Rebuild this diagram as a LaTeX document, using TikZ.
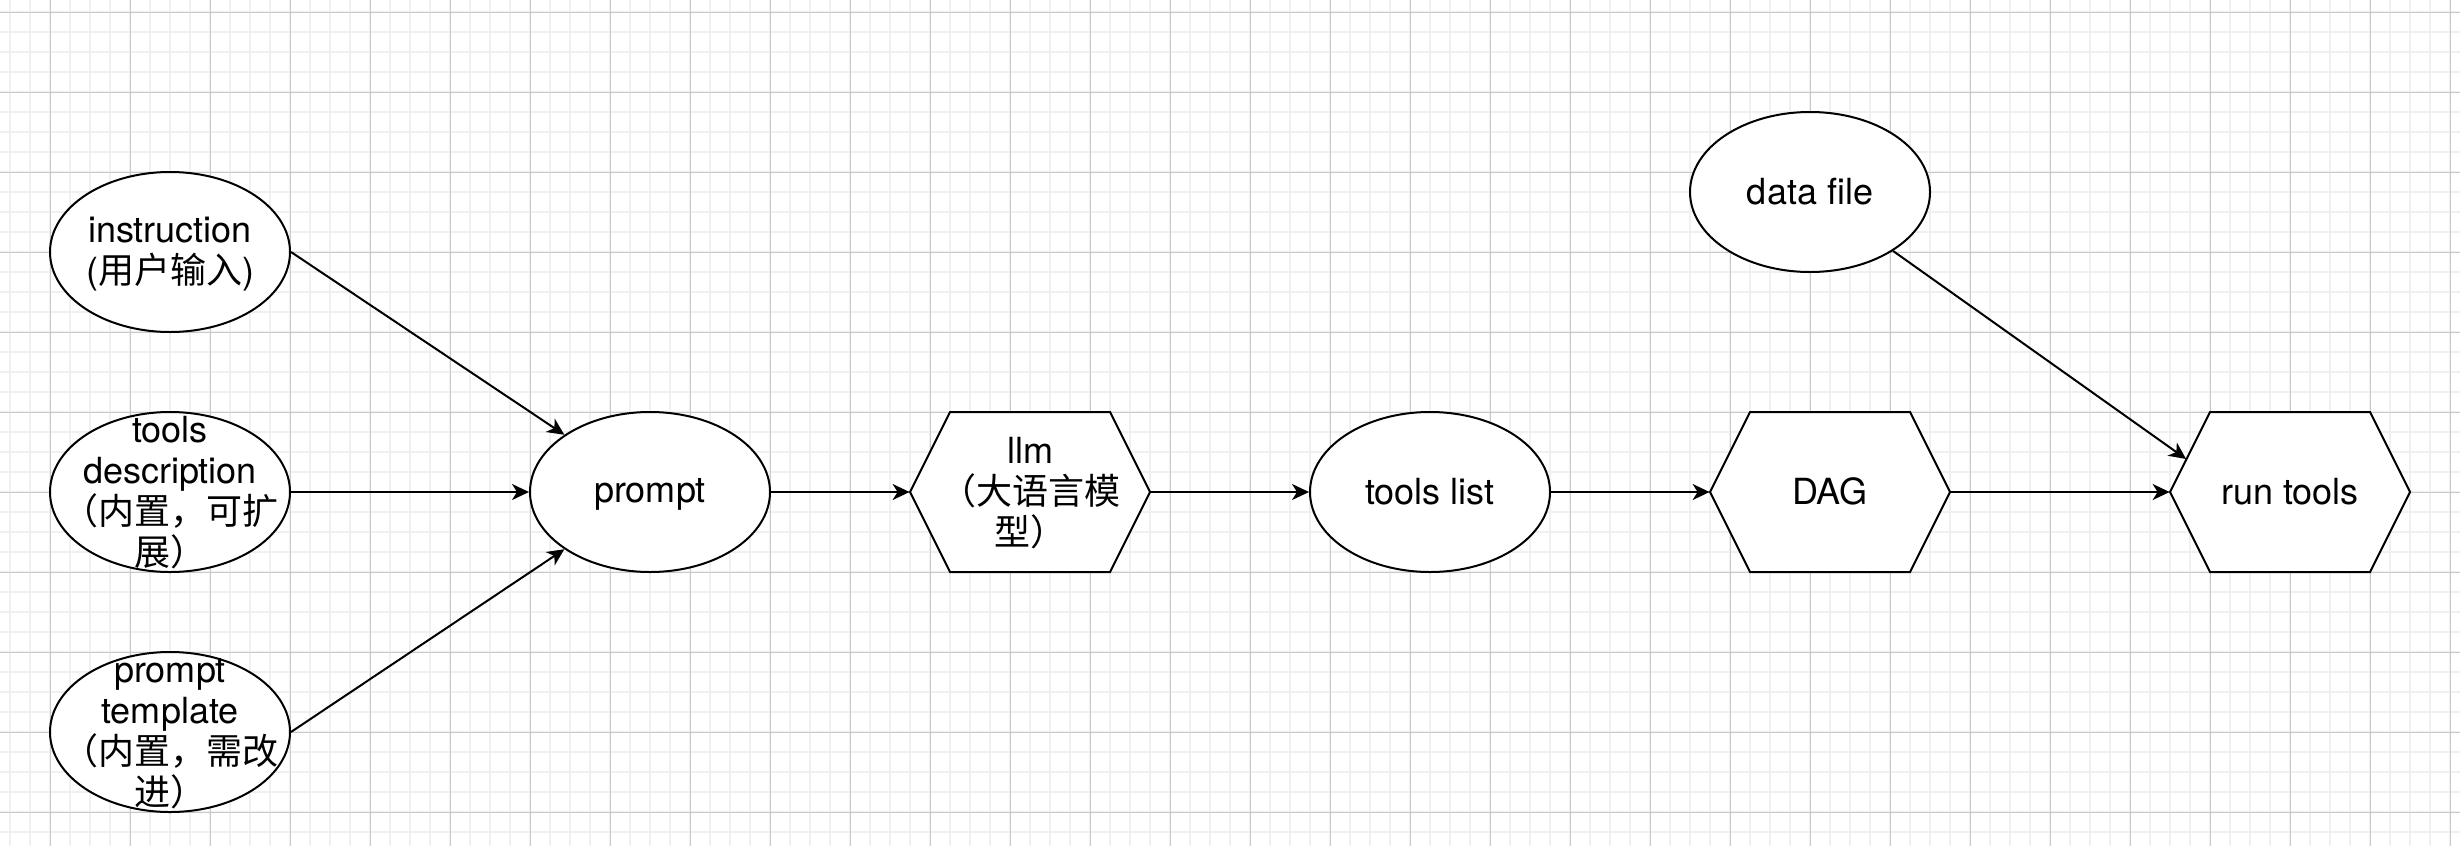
\documentclass[tikz,border=0pt]{standalone}
\usepackage{fontspec}
\setmainfont{TeX Gyre Heros}
\newfontfamily\cjk{Noto Sans CJK SC}
\usetikzlibrary{shapes.geometric,arrows.meta,calc}
\newcommand\ls{\rule[-2.5pt]{0pt}{17.2pt}}
\tikzset{
  ell/.style={ellipse, draw, line width=1pt, fill=white, minimum width=120pt, minimum height=80pt, inner sep=0pt},
  txt/.style={align=center, inner sep=0pt, font=\fontsize{18pt}{20.5pt}\selectfont},
  hexnode/.style={rectangle, minimum width=120pt, minimum height=80pt, inner sep=0pt, align=center, font=\fontsize{18pt}{20.5pt}\selectfont},
  hexfill/.style={draw, fill=white, line width=1pt, line join=miter},
  arr/.style={-{Stealth[length=8.5pt,width=8pt,inset=2.5pt]}, line width=1pt},
  minorline/.style={draw=black!6, line width=1pt},
  majorline/.style={draw=black!21, line width=0.5pt},
}
\newcommand\hexbox[3]{%
  \path[hexfill] ($#2+(-120,0)$) -- ($#2+(-80,-80)$) -- ($#2+(80,-80)$) -- ($#2+(120,0)$) -- ($#2+(80,80)$) -- ($#2+(-80,80)$) -- cycle;
  \node[hexnode] (#1) at #2 {#3};}
\begin{document}
\begin{tikzpicture}[x=0.5pt,y=-0.5pt]
\useasboundingbox (0,0) rectangle (2460,846);
\fill[white] (0,0) rectangle (2460,846);
% grid
\foreach \x in {10,30,...,2450} \draw[minorline] (\x,0) -- (\x,846);
\foreach \y in {12,32,...,832} \draw[minorline] (0,\y) -- (2460,\y);
\foreach \x in {50,130,...,2450} \draw[majorline] (\x,0) -- (\x,846);
\foreach \y in {12,92,...,812} \draw[majorline] (0,\y) -- (2460,\y);

% ellipses
\node[ell] (instr) at (170,252) {};
\node[txt] (instr-t) at (instr) {\ls instruction\\\ls({\cjk 用户输入})};
\node[ell] (tdesc) at (170,492) {};
\node[txt] (tdesc-t) at (tdesc) {\ls tools\\\ls description\\\ls{\cjk （内置，可扩}\\\ls{\cjk 展）}};
\node[ell] (ptmpl) at (170,732) {};
\node[txt] (ptmpl-t) at (ptmpl) {\ls prompt\\\ls template\\\ls{\cjk （内置，需改}\\\ls{\cjk 进）}};
\node[ell] (prompt) at (650,492) {};
\node[txt] (prompt-t) at (prompt) {\ls prompt};
\node[ell] (tlist) at (1430,492) {};
\node[txt] (tlist-t) at (tlist) {\ls tools list};
\node[ell] (df) at (1810,192) {};
\node[txt] (df-t) at (df) {\ls data file};

% hexagons
\hexbox{llm}{(1030,492)}{\ls llm\\\ls{\cjk （大语言模}\\\ls{\cjk 型）}}
\hexbox{dag}{(1830,492)}{\ls DAG}
\hexbox{rt}{(2290,492)}{\ls run tools}
\coordinate (rtin) at ($(rt.west)+(16.5,-33)$);

% connectors
\draw[arr] (instr.east) -- (prompt);
\draw[arr] (tdesc) -- (prompt);
\draw[arr] (ptmpl.east) -- (prompt);
\draw[arr] (prompt) -- (llm.west);
\draw[arr] (llm.east) -- (tlist);
\draw[arr] (tlist) -- (dag.west);
\draw[arr] (dag.east) -- (rt.west);
\draw[arr] (df) -- (rtin);
\end{tikzpicture}
\end{document}
